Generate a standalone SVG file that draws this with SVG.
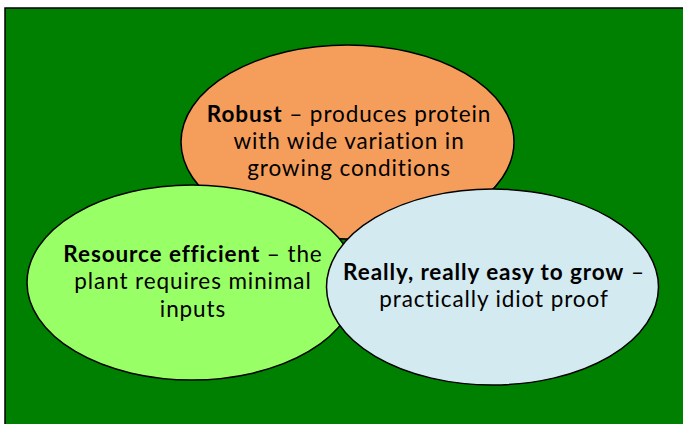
<svg xmlns="http://www.w3.org/2000/svg" width="683" height="424" viewBox="0 0 683 424">
<style>
.bg{fill:#008000;stroke:#000;stroke-width:1.5}
.el{stroke:#000;stroke-width:1.5}
.t{font-family:Lato,"Open Sans",sans-serif;font-size:22.5px;letter-spacing:0.9px;fill:#000;text-anchor:middle}
.b{font-weight:bold}
</style>
<rect class="bg" x="5" y="8" width="680" height="420"/>
<g id="robust">
<ellipse class="el" cx="347.5" cy="142" rx="166.5" ry="97" fill="#F59E5B"/>
<text class="t" x="349" y="122"><tspan class="b">Robust</tspan> – produces protein</text>
<text class="t" x="349" y="149">with wide variation in</text>
<text class="t" x="349" y="176">growing conditions</text>
</g>
<g id="resource">
<ellipse class="el" cx="192" cy="282.5" rx="165" ry="97.5" fill="#99FF66"/>
<text class="t" x="193" y="262"><tspan class="b">Resource efficient</tspan> – the</text>
<text class="t" x="193" y="289">plant requires minimal</text>
<text class="t" x="193" y="317">inputs</text>
</g>
<g id="easy">
<ellipse class="el" cx="492.5" cy="287" rx="166" ry="98" fill="#D3EAF0"/>
<text class="t" x="494" y="280"><tspan class="b">Really, really easy to grow</tspan> –</text>
<text class="t" x="494" y="307">practically idiot proof</text>
</g>
<g id="connectors"/>
</svg>
